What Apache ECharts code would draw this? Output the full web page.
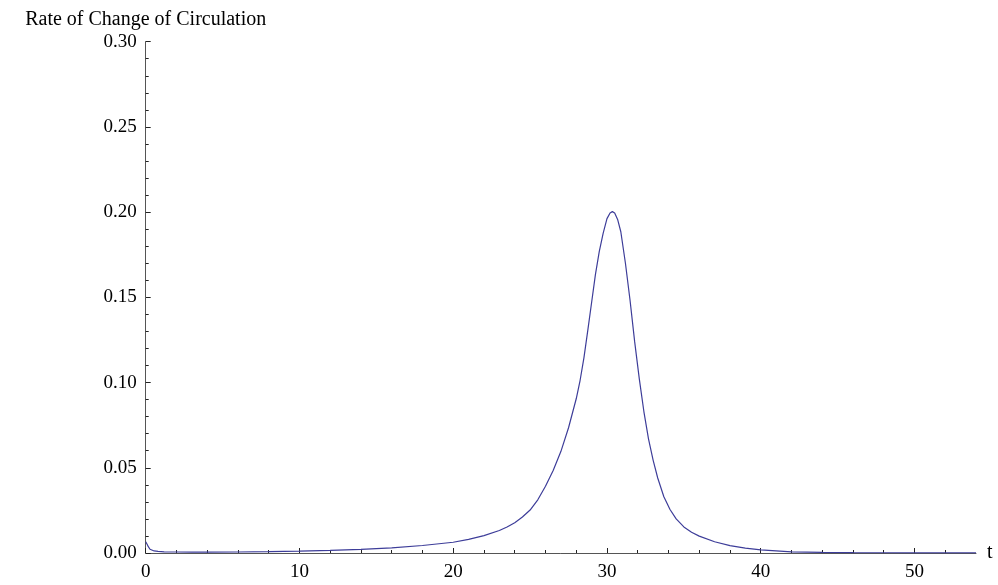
<!DOCTYPE html>
<html>
<head>
<meta charset="utf-8">
<script src="https://cdn.jsdelivr.net/npm/echarts@6/dist/echarts.min.js"></script>
<style>
  html, body { margin: 0; padding: 0; background: #fff; }
  #chart { width: 998px; height: 585px; }
</style>
</head>
<body>
<div id="chart"></div>
<script>
// values
var tValues = [0, 0.1, 0.17, 0.28, 0.4, 0.55, 0.8, 1.2, 2, 3, 4, 6, 8, 10, 12, 14, 16, 18, 20, 21, 22, 23, 23.5,
  24, 24.5, 25, 25.5, 26, 26.5, 27, 27.5, 28, 28.25, 28.5, 28.75, 29, 29.25, 29.5, 29.75, 30, 30.2, 30.35,
  30.5, 30.7, 30.9, 31.2, 31.5, 31.8, 32.1, 32.4, 32.7, 33, 33.3, 33.7, 34.1, 34.5, 35, 35.5, 36, 37, 38, 39,
  40, 42, 44, 46, 48, 50, 52, 54];
var rateValues = [0.0066, 0.0050, 0.0037, 0.0022, 0.0016, 0.0012, 0.0009, 0.0007, 0.0006, 0.00055, 0.00055,
  0.0006, 0.0008, 0.0011, 0.0015, 0.0021, 0.0030, 0.0044, 0.0063, 0.0080, 0.0102, 0.0132, 0.0153,
  0.0178, 0.0211, 0.0252, 0.0312, 0.0392, 0.0484, 0.0595, 0.0735, 0.0905, 0.1012, 0.1145, 0.1305, 0.147,
  0.1635, 0.177, 0.1875, 0.1962, 0.1995, 0.2003, 0.1995, 0.1955, 0.1885, 0.170, 0.1483, 0.124, 0.1023,
  0.083, 0.067, 0.0545, 0.044, 0.0330, 0.0255, 0.0200, 0.0153, 0.0122, 0.0099, 0.0066, 0.0043, 0.0029,
  0.0018, 0.0007, 0.0004, 0.0002, 0.00015, 0.0001, 0.0001, 0.0001];

var xMajorTicks = [0, 10, 20, 30, 40, 50];
var xMinorTicks = [2, 4, 6, 8, 12, 14, 16, 18, 22, 24, 26, 28, 32, 34, 36, 38, 42, 44, 46, 48, 52];
var yMajorTicks = [0, 0.05, 0.10, 0.15, 0.20, 0.25, 0.30];

var font = '"Liberation Serif", "DejaVu Serif", serif';
var axisGray = '#555555';

var points = tValues.map(function (t, i) { return [t, rateValues[i]]; });

var chart = echarts.init(document.getElementById('chart'));

var option = {
  animation: false,
  backgroundColor: '#ffffff',
  textStyle: { fontFamily: font },
  grid: { left: 145.7, right: 22, top: 41.7, bottom: 32 },
  xAxis: [
    {
      type: 'value',
      min: 0,
      max: 54,
      interval: 10,
      name: 't',
      nameLocation: 'end',
      nameGap: 11,
      nameTextStyle: { fontFamily: font, fontSize: 20, color: '#000' },
      axisLine: { show: true, onZero: false, lineStyle: { color: axisGray, width: 1 } },
      axisTick: { show: true, inside: true, length: 5, customValues: xMajorTicks, lineStyle: { color: '#222' } },
      axisLabel: { customValues: xMajorTicks, margin: 10, fontFamily: font, fontSize: 19, color: '#000' },
      splitLine: { show: false }
    },
    {
      type: 'value',
      min: 0,
      max: 54,
      interval: 2,
      position: 'bottom',
      axisLine: { show: false },
      axisTick: { show: true, inside: true, length: 3, customValues: xMinorTicks, lineStyle: { color: '#222' } },
      axisLabel: { show: false },
      splitLine: { show: false }
    }
  ],
  yAxis: {
    type: 'value',
    min: 0,
    max: 0.3,
    interval: 0.05,
    name: 'Rate of Change of Circulation',
    nameLocation: 'end',
    nameGap: 12,
    nameTextStyle: { fontFamily: font, fontSize: 20, color: '#000', align: 'center' },
    axisLine: { show: true, onZero: false, lineStyle: { color: axisGray, width: 1 } },
    axisTick: { show: true, inside: true, length: 5, customValues: yMajorTicks, lineStyle: { color: '#222' } },
    minorTick: { show: true, splitNumber: 5, length: 3, lineStyle: { color: '#222' } },
    axisLabel: {
      customValues: yMajorTicks,
      margin: 9,
      fontFamily: font,
      fontSize: 19,
      color: '#000',
      formatter: function (v) { return v.toFixed(2); }
    },
    splitLine: { show: false },
    minorSplitLine: { show: false }
  },
  series: [
    {
      type: 'line',
      xAxisIndex: 0,
      data: points,
      showSymbol: false,
      smooth: false,
      lineStyle: { color: '#3d3d99', width: 1.2 },
      clip: true
    }
  ]
};

chart.setOption(option);
</script>
</body>
</html>
